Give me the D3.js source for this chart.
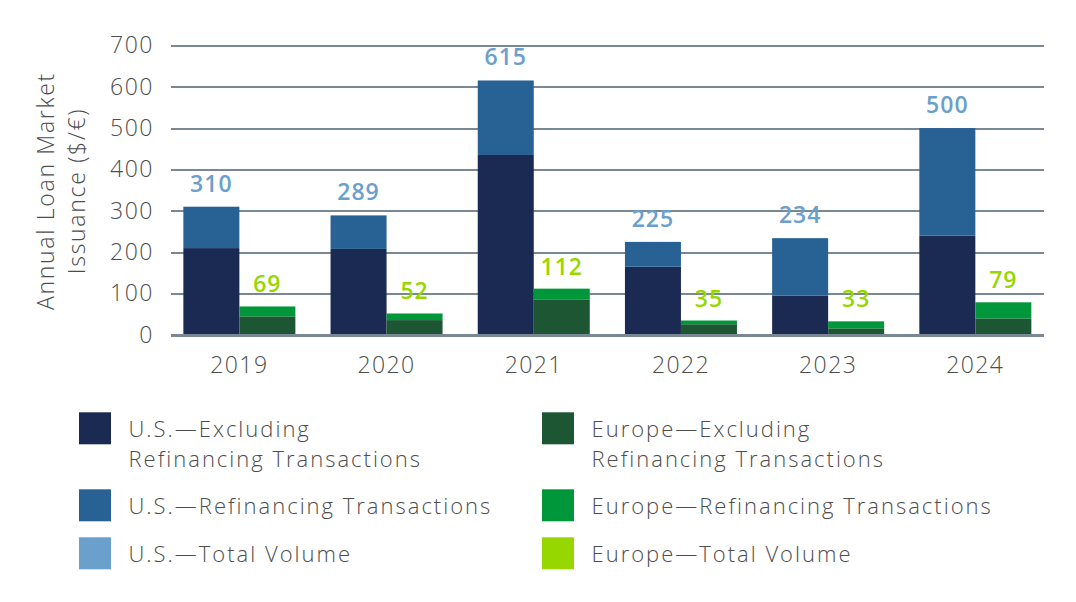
<!DOCTYPE html>
<html>
<head>
<meta charset="utf-8">
<style>
  body { margin: 0; background: #fff; }
  svg { display: block; font-family: "Open Sans", sans-serif; }
  .axis text { fill: #4d4d4d; font-family: "Open Sans", sans-serif; font-size: 23px; font-weight: 300; letter-spacing: 1.4px; }
  .grid line { stroke: #7a8896; stroke-width: 2; shape-rendering: crispEdges; }
  .lbl { font-size: 23px; font-weight: 600; text-anchor: middle; letter-spacing: 1px; }
  .legend text { fill: #4d4d4d; font-size: 22px; font-weight: 300; letter-spacing: 2px; }
  .ytitle { fill: #4d4d4d; font-size: 23px; font-weight: 300; text-anchor: middle; letter-spacing: 1.7px; }
</style>
</head>
<body>
<div id="chart"></div>
<script src="https://d3js.org/d3.v7.min.js"></script>
<script>
var years = ["2019", "2020", "2021", "2022", "2023", "2024"];
var usExcl = [210, 208, 435, 165, 95, 240];
var usRefi = [100, 81, 180, 60, 139, 260];
var usTotal = [310, 289, 615, 225, 234, 500];
var euExcl = [45, 36, 85, 26, 16, 40];
var euRefi = [24, 16, 27, 9, 17, 39];
var euTotal = [69, 52, 112, 35, 33, 79];
var yTicks = [0, 100, 200, 300, 400, 500, 600, 700];

var colors = {
  usExcl: "#1b2a53", usRefi: "#286193", usTotal: "#6aa0cb",
  euExcl: "#1d5632", euRefi: "#00973a", euTotal: "#97d700"
};

var legendItems = [
  { key: "usExcl", lines: ["U.S.\u2014Excluding", "Refinancing Transactions"], col: 0, row: 0 },
  { key: "usRefi", lines: ["U.S.\u2014Refinancing Transactions"], col: 0, row: 1 },
  { key: "usTotal", lines: ["U.S.\u2014Total Volume"], col: 0, row: 2 },
  { key: "euExcl", lines: ["Europe\u2014Excluding", "Refinancing Transactions"], col: 1, row: 0 },
  { key: "euRefi", lines: ["Europe\u2014Refinancing Transactions"], col: 1, row: 1 },
  { key: "euTotal", lines: ["Europe\u2014Total Volume"], col: 1, row: 2 }
];

var width = 1076, height = 602;
var plotLeft = 170.7, plotRight = 1044, plotTop = 45.3, plotBottom = 335;

var svg = d3.select("#chart").append("svg")
  .attr("width", width)
  .attr("height", height);

var x0 = d3.scaleBand().domain(years).range([plotLeft, plotRight])
  .paddingInner(0.239).paddingOuter(0.086);
var x1 = d3.scaleBand().domain(["us", "eu"]).range([0, x0.bandwidth()]);
var y = d3.scaleLinear().domain([0, 700]).range([plotBottom, plotTop]);

// gridlines + y tick labels
var yAxis = d3.axisLeft(y).tickValues(yTicks).tickSize(-(plotRight - plotLeft)).tickPadding(17);
svg.append("g")
  .attr("class", "axis grid")
  .attr("transform", "translate(" + plotLeft + ",0)")
  .call(yAxis)
  .call(g => g.select(".domain").remove());

// stacked bars
var rows = years.map((yr, i) => ({
  year: yr,
  us: [{ key: "usExcl", y0: 0, y1: usExcl[i] }, { key: "usRefi", y0: usExcl[i], y1: usExcl[i] + usRefi[i] }],
  eu: [{ key: "euExcl", y0: 0, y1: euExcl[i] }, { key: "euRefi", y0: euExcl[i], y1: euExcl[i] + euRefi[i] }],
  usTotal: usTotal[i],
  euTotal: euTotal[i]
}));

var group = svg.selectAll(".year")
  .data(rows)
  .enter().append("g")
  .attr("class", "year")
  .attr("transform", d => "translate(" + x0(d.year) + ",0)");

["us", "eu"].forEach(function (side) {
  group.selectAll(".bar." + side)
    .data(d => d[side])
    .enter().append("rect")
    .attr("class", "bar " + side)
    .attr("x", x1(side))
    .attr("width", x1.bandwidth())
    .attr("y", d => y(d.y1))
    .attr("height", d => y(d.y0) - y(d.y1))
    .style("fill", d => colors[d.key]);
});

// total labels
group.append("text")
  .attr("class", "lbl")
  .attr("x", x1("us") + x1.bandwidth() / 2)
  .attr("y", d => y(d.usTotal) - 15)
  .style("fill", colors.usTotal)
  .text(d => d.usTotal);

group.append("text")
  .attr("class", "lbl")
  .attr("x", x1("eu") + x1.bandwidth() / 2)
  .attr("y", d => y(d.euTotal) - 14)
  .style("fill", colors.euTotal)
  .text(d => d.euTotal);

// zero line on top
svg.append("line")
  .attr("x1", plotLeft).attr("x2", plotRight)
  .attr("y1", y(0)).attr("y2", y(0))
  .style("stroke", "#7a8896").style("stroke-width", 2)
  .style("shape-rendering", "crispEdges");

// x labels
var xAxis = d3.axisBottom(x0).tickSize(0).tickPadding(22);
svg.append("g")
  .attr("class", "axis")
  .attr("transform", "translate(0," + plotBottom + ")")
  .call(xAxis)
  .call(g => g.select(".domain").remove());

// y title
svg.append("text").attr("class", "ytitle")
  .attr("transform", "translate(54,191) rotate(-90)")
  .text("Annual Loan Market");
svg.append("text").attr("class", "ytitle")
  .attr("transform", "translate(85,191) rotate(-90)")
  .text("Issuance ($/\u20ac)");

// legend
var colX = [79, 542], rowY = [412.3, 489.3, 537.3];
var leg = svg.selectAll(".legend")
  .data(legendItems)
  .enter().append("g")
  .attr("class", "legend")
  .attr("transform", d => "translate(" + colX[d.col] + "," + rowY[d.row] + ")");

leg.append("rect")
  .attr("width", 32).attr("height", 32)
  .style("fill", d => colors[d.key]);

leg.each(function (d) {
  var t = d3.select(this).append("text").attr("x", 49.5);
  d.lines.forEach((ln, k) => {
    t.append("tspan").attr("x", 49.5).attr("y", 25 + k * 29.5).text(ln);
  });
});
</script>
</body>
</html>
